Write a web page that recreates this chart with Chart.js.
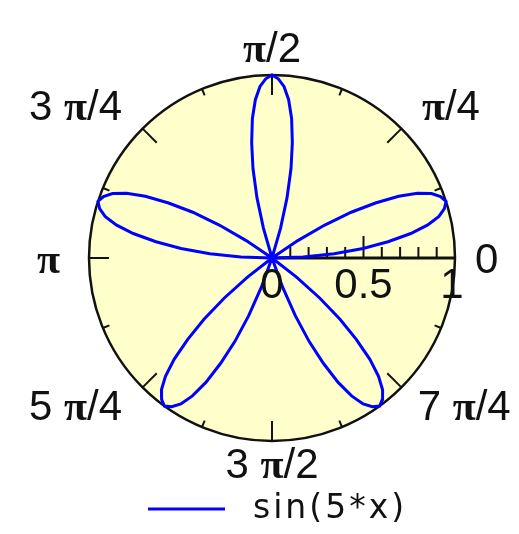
<!DOCTYPE html>
<html><head><meta charset="utf-8">
<script src="https://cdn.jsdelivr.net/npm/chart.js@4.4.1/dist/chart.umd.min.js"></script>
<style>html,body{margin:0;padding:0;background:#fff;}#wrap{width:519px;height:534px;position:relative;}</style>
</head><body><div id="wrap"><canvas id="c"></canvas></div>
<script>
const seriesLabel = 'sin(5*x)';
const thetaDeg = [0,2,4,6,8,10,12,14,16,18,20,22,24,26,28,30,32,34,36,38,40,42,44,46,48,50,52,54,56,58,60,62,64,66,68,70,72,74,76,78,80,82,84,86,88,90,92,94,96,98,100,102,104,106,108,110,112,114,116,118,120,122,124,126,128,130,132,134,136,138,140,142,144,146,148,150,152,154,156,158,160,162,164,166,168,170,172,174,176,178,180];
const rValues = [
 0,.17,.34,.5,.64,.77,.87,.94,.98,1,.98,.94,.87,.77,.64,.5,.34,.17,0,-.17,-.34,-.5,-.64,-.77,-.87,-.94,-.98,-1,-.98,-.94,-.87,-.77,-.64,-.5,-.34,-.17,
 0,.17,.34,.5,.64,.77,.87,.94,.98,1,.98,.94,.87,.77,.64,.5,.34,.17,0,-.17,-.34,-.5,-.64,-.77,-.87,-.94,-.98,-1,-.98,-.94,-.87,-.77,-.64,-.5,-.34,-.17,
 0,.17,.34,.5,.64,.77,.87,.94,.98,1,.98,.94,.87,.77,.64,.5,.34,.17,0];
const angleTickDeg = [0,45,90,135,180,225,270,315];
const angleTickLabels = ['0','π/4','π/2','3 π/4','π','5 π/4','3 π/2','7 π/4'];
const radialTickValues = [0,0.1,0.2,0.3,0.4,0.5,0.6,0.7,0.8,0.9,1];
const radialTickLabels = ['0','','','','','0.5','','','','','1'];

const points = thetaDeg.map((t,i)=>{const a=t*Math.PI/180;return {x:rValues[i]*Math.cos(a), y:rValues[i]*Math.sin(a)};});

// label gaps (px) outside circle, per angular label [gx, gy]
const labelGaps = [[20,0],[29,12],[0,13],[29,12],[29,0],[29,4],[0,7],[23,4]];
const FS = 42;

function drawMixed(ctx, text, x, yBase, align, size){
  const parts = text.split(/(π)/).filter(s=>s.length);
  const fN = size+'px "Liberation Sans", Arial, sans-serif';
  const fB = 'bold '+size+'px "Liberation Serif", serif';
  let w=0;
  parts.forEach(p=>{ctx.font = p==='π'?fB:fN; w+=ctx.measureText(p).width;});
  let sx = align==='left'?x:(align==='right'?x-w:x-w/2);
  ctx.textAlign='left'; ctx.textBaseline='alphabetic';
  parts.forEach(p=>{ctx.font = p==='π'?fB:fN; ctx.fillText(p, sx, yBase); sx+=ctx.measureText(p).width;});
}

const polarFrame = {
  id:'polarFrame',
  beforeDatasetsDraw(chart){
    const {ctx, scales:{x,y}} = chart;
    const cx=x.getPixelForValue(0), cy=y.getPixelForValue(0);
    const R=x.getPixelForValue(1)-cx;
    ctx.save();
    ctx.beginPath(); ctx.arc(cx,cy,R,0,Math.PI*2);
    ctx.fillStyle='#ffffcc'; ctx.fill();
    ctx.lineWidth=2.5; ctx.strokeStyle='#111'; ctx.stroke();
    ctx.lineWidth=2;
    for(let k=0;k<16;k++){
      const a=k*22.5*Math.PI/180, len=(k%2===0)?20:7;
      ctx.beginPath();
      ctx.moveTo(cx+R*Math.cos(a), cy-R*Math.sin(a));
      ctx.lineTo(cx+(R-len)*Math.cos(a), cy-(R-len)*Math.sin(a));
      ctx.stroke();
    }
    ctx.lineWidth=3;
    ctx.beginPath(); ctx.moveTo(cx,cy); ctx.lineTo(cx+R,cy); ctx.stroke();
    ctx.lineWidth=2;
    radialTickValues.forEach((v,i)=>{
      if(v===0||v===1) return;
      const px=x.getPixelForValue(v), len=radialTickLabels[i]?22:11;
      ctx.beginPath(); ctx.moveTo(px,cy); ctx.lineTo(px,cy-len); ctx.stroke();
    });
    ctx.restore();
  },
  afterDatasetsDraw(chart){
    const {ctx, scales:{x,y}, chartArea} = chart;
    const cx=x.getPixelForValue(0), cy=y.getPixelForValue(0);
    const R=x.getPixelForValue(1)-cx;
    ctx.save();
    ctx.fillStyle='#111';
    const capH=0.716*FS;
    angleTickDeg.forEach((d,i)=>{
      const a=d*Math.PI/180, c=Math.cos(a), s=Math.sin(a);
      const [gx,gy]=labelGaps[i];
      const ax=cx+(R+gx)*c, ay=cy-(R+gy)*s;
      const align = c>0.3?'left':(c<-0.3?'right':'center');
      let base;
      if(s>0.3) base=ay; else if(s<-0.3) base=ay+capH; else base=cy+capH/2;
      drawMixed(ctx, angleTickLabels[i], align==='center'?cx:ax, base, align, FS);
    });
    radialTickValues.forEach((v,i)=>{
      const t=radialTickLabels[i]; if(!t) return;
      const px=x.getPixelForValue(v) - (v===1?3:0);
      drawMixed(ctx, t, px, cy+40, 'center', FS);
    });
    // legend
    const ds=chart.data.datasets[0];
    const ly=chartArea.bottom+68;
    ctx.strokeStyle=ds.borderColor; ctx.lineWidth=3;
    ctx.beginPath(); ctx.moveTo(148,ly); ctx.lineTo(225,ly); ctx.stroke();
    ctx.font='33px "DejaVu Sans", sans-serif';
    ctx.letterSpacing='3px';
    ctx.textAlign='left'; ctx.textBaseline='alphabetic';
    ctx.fillText(ds.label, 253, ly+9);
    ctx.restore();
  }
};

new Chart(document.getElementById('c'), {
  type:'scatter',
  data:{datasets:[{label:seriesLabel, data:points, showLine:true, borderColor:'#0000ff', borderWidth:3, pointRadius:0, fill:false, tension:0, clip:8}]},
  options:{
    responsive:true, maintainAspectRatio:false, animation:false,
    layout:{padding:{left:89,right:64,top:75,bottom:93}},
    scales:{x:{type:'linear',min:-1,max:1,display:false}, y:{type:'linear',min:-1,max:1,display:false}},
    plugins:{legend:{display:false}, tooltip:{enabled:false}}
  },
  plugins:[polarFrame]
});
</script></body></html>
